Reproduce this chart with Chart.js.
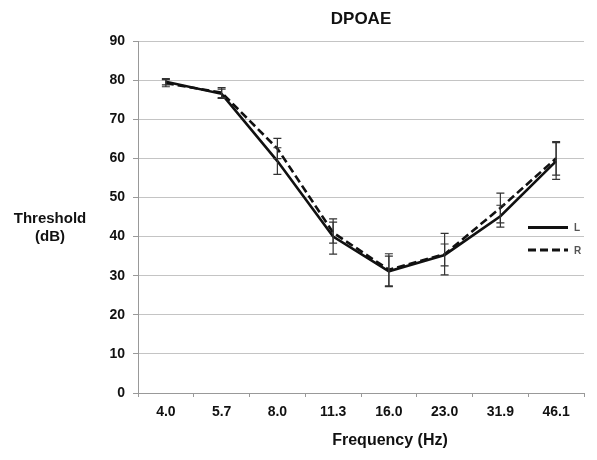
<!DOCTYPE html>
<html>
<head>
<meta charset="utf-8">
<title>DPOAE</title>
<script src="https://cdn.jsdelivr.net/npm/chart.js@4.4.1/dist/chart.umd.min.js"></script>
<style>
  html, body { margin: 0; padding: 0; background: #fff; }
  #wrap { width: 597px; height: 460px; }
</style>
</head>
<body>
<div id="wrap"><canvas id="dpoaeChart" width="597" height="460"></canvas></div>
<script>
// Frequency bands (x categories)
const frequencies = ["4.0", "5.7", "8.0", "11.3", "16.0", "23.0", "31.9", "46.1"];

// Mean thresholds (dB)
const leftEar = [79.6, 76.5, 59.3, 40.0, 31.1, 35.3, 45.2, 59.3];
const rightEar = [79.2, 76.8, 62.5, 41.0, 31.5, 35.5, 47.3, 60.0];

// Error bar half-lengths (dB)
const leftErr = [0.8, 1.2, 3.4, 4.5, 3.9, 2.8, 2.8, 4.7];
const rightErr = [0.9, 1.3, 2.6, 2.7, 4.1, 5.3, 3.8, 4.3];

// Y axis range
const yMin = 0;
const yMax = 90;
const yStep = 10;

const FONT = "'Liberation Sans', Arial, sans-serif";
Chart.defaults.font.family = FONT;

// Error bars drawn through the scales
const errorBars = {
  id: "errorBars",
  afterDatasetsDraw(chart) {
    const { ctx, scales: { x, y } } = chart;
    ctx.save();
    ctx.strokeStyle = "#333";
    ctx.lineWidth = 1.2;
    chart.data.datasets.forEach((ds) => {
      ds.errors.forEach((e, i) => {
        const px = x.getPixelForValue(i);
        const top = y.getPixelForValue(ds.data[i] + e);
        const bot = y.getPixelForValue(ds.data[i] - e);
        ctx.beginPath();
        ctx.moveTo(px, top);
        ctx.lineTo(px, bot);
        ctx.moveTo(px - 4, top);
        ctx.lineTo(px + 4, top);
        ctx.moveTo(px - 4, bot);
        ctx.lineTo(px + 4, bot);
        ctx.stroke();
      });
    });
    ctx.restore();
  },
};

// Title, axis titles and the small legend inside the plot
const labels = {
  id: "labels",
  afterDraw(chart) {
    const { ctx, chartArea } = chart;
    const cx = (chartArea.left + chartArea.right) / 2;
    ctx.save();
    ctx.fillStyle = "#111";
    ctx.textAlign = "center";
    ctx.textBaseline = "middle";

    ctx.font = "bold 17px " + FONT;
    ctx.fillText("DPOAE", cx, 19.5);

    ctx.font = "bold 15px " + FONT;
    ctx.fillText("Threshold", 50, 219);
    ctx.fillText("(dB)", 50, 237);

    ctx.font = "bold 16px " + FONT;
    ctx.fillText("Frequency (Hz)", 390, 441);

    // legend
    chart.data.datasets.forEach((ds, i) => {
      const ly = 227.5 + i * 22.5;
      ctx.beginPath();
      ctx.strokeStyle = "#111";
      ctx.lineWidth = 3;
      ctx.setLineDash(ds.borderDash || []);
      ctx.moveTo(528, ly);
      ctx.lineTo(568, ly);
      ctx.stroke();
      ctx.setLineDash([]);
      ctx.fillStyle = "#555";
      ctx.font = "bold 10px " + FONT;
      ctx.textAlign = "left";
      ctx.fillText(ds.label, 574, ly + 1);
    });
    ctx.restore();
  },
};

new Chart(document.getElementById("dpoaeChart"), {
  type: "line",
  data: {
    labels: frequencies,
    datasets: [
      {
        label: "L",
        data: leftEar,
        errors: leftErr,
        borderColor: "#111",
        borderWidth: 2.6,
        pointRadius: 0,
        tension: 0,
      },
      {
        label: "R",
        data: rightEar,
        errors: rightErr,
        borderColor: "#111",
        borderWidth: 2.6,
        borderDash: [8, 4],
        pointRadius: 0,
        tension: 0,
      },
    ],
  },
  options: {
    responsive: false,
    animation: false,
    devicePixelRatio: 1,
    layout: { padding: { top: 41, right: 13, left: 0, bottom: 0 } },
    plugins: {
      legend: { display: false },
      tooltip: { enabled: false },
    },
    scales: {
      x: {
        offset: true,
        grid: {
          offset: true,
          drawOnChartArea: false,
          tickLength: 4,
          color: "#999",
        },
        border: { color: "#999" },
        ticks: { color: "#111", font: { size: 14, weight: "bold" }, padding: 7 },
        afterFit(scale) { scale.height = 67; },
      },
      y: {
        min: yMin,
        max: yMax,
        grid: { color: "#c4c4c4", tickLength: 5, tickColor: "#999" },
        border: { color: "#999" },
        ticks: { stepSize: yStep, color: "#111", font: { size: 14, weight: "bold" }, padding: 8 },
        afterFit(scale) { scale.width = 138; },
      },
    },
  },
  plugins: [errorBars, labels],
});
</script>
</body>
</html>
